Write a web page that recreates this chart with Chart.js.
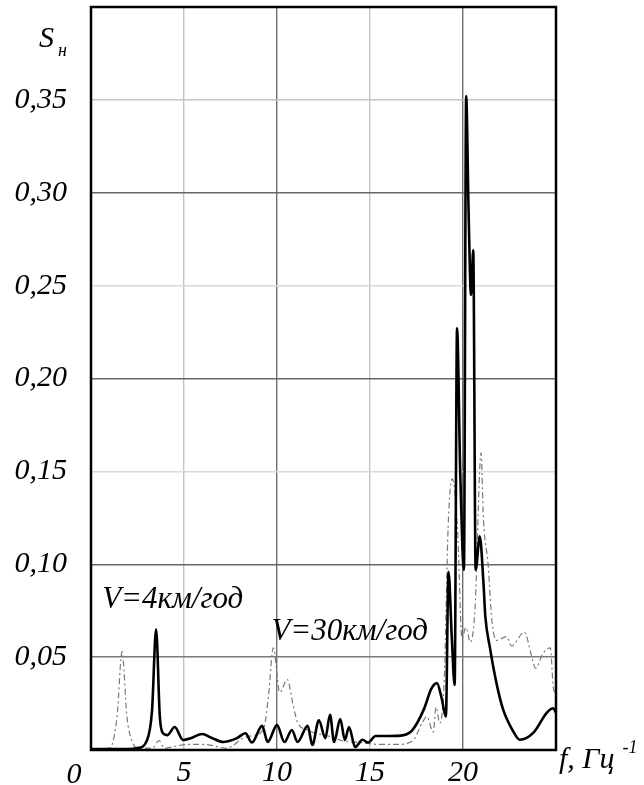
<!DOCTYPE html>
<html>
<head>
<meta charset="utf-8">
<script src="https://cdn.jsdelivr.net/npm/chart.js@4.4.1/dist/chart.umd.min.js"></script>
<style>
  html, body { margin: 0; padding: 0; background: #fff; }
  #c { display: block; }
</style>
</head>
<body>
<canvas id="c" width="644" height="785"></canvas>
<script>
// ---- data ----
const fSolid = [0, 1.0, 2.0, 2.5, 3.0, 3.28, 3.5, 3.7, 3.87, 4.1, 4.5, 4.95, 5.4, 5.97, 6.5, 7.1, 7.85,
  8.3, 8.65, 9.2, 9.5, 10.0, 10.4, 10.8, 11.1, 11.65, 11.9, 12.25, 12.6, 12.85, 13.07, 13.4, 13.65, 13.87,
  14.2, 14.6, 14.9, 15.3, 16.0, 16.8, 17.3, 17.9, 18.3, 18.6, 18.85, 19.08, 19.22, 19.4, 19.55, 19.68,
  19.85, 20.05, 20.17, 20.3, 20.43, 20.55, 20.68, 20.9, 21.1, 21.2, 21.45, 21.8, 22.15, 22.7, 23.05,
  23.8, 24.5, 24.85, 25];
const sSolid = [0.0005, 0.0005, 0.0005, 0.001, 0.005, 0.021, 0.065, 0.018, 0.009, 0.008, 0.0124, 0.0054, 0.0065, 0.0086, 0.0065, 0.0043, 0.0064,
  0.009, 0.004, 0.013, 0.0043, 0.0134, 0.0043, 0.0108, 0.0043, 0.013, 0.0027, 0.016, 0.0064, 0.019, 0.0043, 0.0167, 0.0054, 0.0124,
  0.0016, 0.0055, 0.004, 0.0075, 0.0075, 0.008, 0.011, 0.022, 0.033, 0.036, 0.028, 0.018, 0.096, 0.06, 0.035, 0.227,
  0.15, 0.097, 0.352, 0.29, 0.245, 0.269, 0.097, 0.115, 0.09, 0.072, 0.055, 0.036, 0.022, 0.01, 0.0055,
  0.0095, 0.02, 0.0225, 0.02];

const fDashed = [0, 1.0, 1.4, 1.67, 1.93, 2.2, 2.5, 3.3, 3.65, 3.95, 4.5, 5.2, 6.1, 7.3, 8.2, 8.8, 9.3, 9.55,
  9.8, 10.15, 10.55, 10.85, 11.1, 11.6, 12.5, 13.0, 13.5, 14.5, 15.5, 16.5, 17.3, 17.8, 18.05, 18.4, 18.55,
  18.75, 19.0, 19.2, 19.42, 19.7, 19.95, 20.15, 20.4, 20.65, 20.97, 21.1, 21.35, 21.55, 21.8, 22.35, 22.6,
  23.3, 23.7, 23.9, 24.3, 24.7, 24.85, 25];
const sDashed = [0.0005, 0.001, 0.018, 0.053, 0.018, 0.005, 0.001, 0.001, 0.005, 0.001, 0.002, 0.003, 0.003, 0.001, 0.0065, 0.008, 0.012, 0.03,
  0.055, 0.031, 0.038, 0.025, 0.015, 0.011, 0.008, 0.007, 0.005, 0.004, 0.003, 0.003, 0.005, 0.0145, 0.018, 0.0097, 0.023,
  0.0145, 0.04, 0.12, 0.146, 0.12, 0.06, 0.066, 0.058, 0.077, 0.16, 0.124, 0.1, 0.07, 0.059, 0.061, 0.056,
  0.0635, 0.05, 0.044, 0.052, 0.055, 0.034, 0.03];

const xTickLabels = ['0', '5', '10', '15', '20'];
const yTickLabels = ['', '0,05', '0,10', '0,15', '0,20', '0,25', '0,30', '0,35', ''];
const yAxisTitle = 'S';
const yAxisTitleSub = 'н';
const xAxisTitle = 'f, Гц';
const xAxisTitleSup = '-1';
const annoLabels = [
  { text: 'V=4км/год', f: 0.6, s: 0.0765 },
  { text: 'V=30км/год', f: 9.7, s: 0.0592 }
];

// ---- helpers ----
const toPts = (xs, ys) => xs.map((x, i) => ({ x: x, y: ys[i] }));
const SERIF = '"Liberation Serif", "DejaVu Serif", serif';

const decor = {
  id: 'decor',
  afterDraw(chart) {
    const { ctx, chartArea: a, scales } = chart;
    const xs = scales.x, ys = scales.y;
    ctx.save();
    // frame
    ctx.strokeStyle = '#000';
    ctx.lineWidth = 2.5;
    ctx.strokeRect(a.left, a.top, a.right - a.left, a.bottom - a.top);
    ctx.fillStyle = '#000';
    // "0" tick label, set left of the axis as in the reference
    ctx.font = 'italic 30px ' + SERIF;
    ctx.textAlign = 'center';
    ctx.textBaseline = 'alphabetic';
    ctx.fillText(xTickLabels[0], xs.getPixelForValue(0) - 17, 783);
    // y axis title S_н
    ctx.textAlign = 'left';
    ctx.font = 'italic 30px ' + SERIF;
    ctx.fillText(yAxisTitle, 39, 47);
    ctx.font = 'italic 18px ' + SERIF;
    ctx.fillText(yAxisTitleSub, 58, 56);
    // x axis title
    ctx.font = 'italic 30px ' + SERIF;
    ctx.fillText(xAxisTitle, a.right + 3, 768);
    const w = ctx.measureText(xAxisTitle).width;
    ctx.font = 'italic 18px ' + SERIF;
    ctx.fillText(xAxisTitleSup, a.right + 3 + w + 8, 753);
    // curve annotations
    ctx.font = 'italic 31px ' + SERIF;
    annoLabels.forEach(l => {
      ctx.fillText(l.text, xs.getPixelForValue(l.f), ys.getPixelForValue(l.s));
    });
    ctx.restore();
  }
};

const xGridColor = (c) => {
  const v = Math.round(c.tick.value);
  if (v === 10 || v === 20) return '#6e6e6e';
  if (v === 5 || v === 15) return '#c4c4c4';
  return 'rgba(0,0,0,0)';
};
const yGridColor = (c) => {
  const k = Math.round(c.tick.value / 0.05);
  if (k === 1) return '#7a7a7a';
  if (k === 2 || k === 4 || k === 6) return '#666666';
  if (k === 3 || k === 5) return '#dadada';
  if (k === 7) return '#c4c4c4';
  return 'rgba(0,0,0,0)';
};

new Chart(document.getElementById('c'), {
  type: 'line',
  data: {
    datasets: [
      {
        label: 'solid',
        data: toPts(fSolid, sSolid),
        borderColor: '#000',
        borderWidth: 2.6,
        pointRadius: 0,
        cubicInterpolationMode: 'monotone',
        fill: false,
        order: 0
      },
      {
        label: 'dashed',
        data: toPts(fDashed, sDashed),
        borderColor: '#7a7a7a',
        borderWidth: 1.2,
        borderDash: [6, 3, 2, 3],
        pointRadius: 0,
        cubicInterpolationMode: 'monotone',
        fill: false,
        order: 1
      }
    ]
  },
  options: {
    responsive: false,
    animation: false,
    devicePixelRatio: 1,
    layout: { padding: { left: 0, right: 88, top: 7, bottom: 0 } },
    plugins: { legend: { display: false }, tooltip: { enabled: false } },
    scales: {
      x: {
        type: 'linear',
        min: 0, max: 25,
        afterFit(s) { s.height = 35; s.paddingLeft = 0; s.paddingRight = 0; },
        border: { display: false },
        grid: { color: xGridColor, lineWidth: 1.4, drawTicks: false },
        ticks: {
          stepSize: 5,
          padding: 5,
          maxRotation: 0,
          color: '#000',
          font: { family: SERIF, style: 'italic', size: 30 },
          callback: (v) => {
            const i = Math.round(v / 5);
            return (i >= 1 && i < xTickLabels.length) ? xTickLabels[i] : '';
          }
        }
      },
      y: {
        type: 'linear',
        min: 0, max: 0.4,
        afterFit(s) { s.width = 91; s.paddingTop = 0; s.paddingBottom = 0; },
        border: { display: false },
        grid: { color: yGridColor, lineWidth: 1.4, drawTicks: false },
        ticks: {
          stepSize: 0.05,
          padding: 24,
          color: '#000',
          font: { family: SERIF, style: 'italic', size: 30 },
          callback: (v) => yTickLabels[Math.round(v / 0.05)] || ''
        }
      }
    }
  },
  plugins: [decor]
});
</script>
</body>
</html>
